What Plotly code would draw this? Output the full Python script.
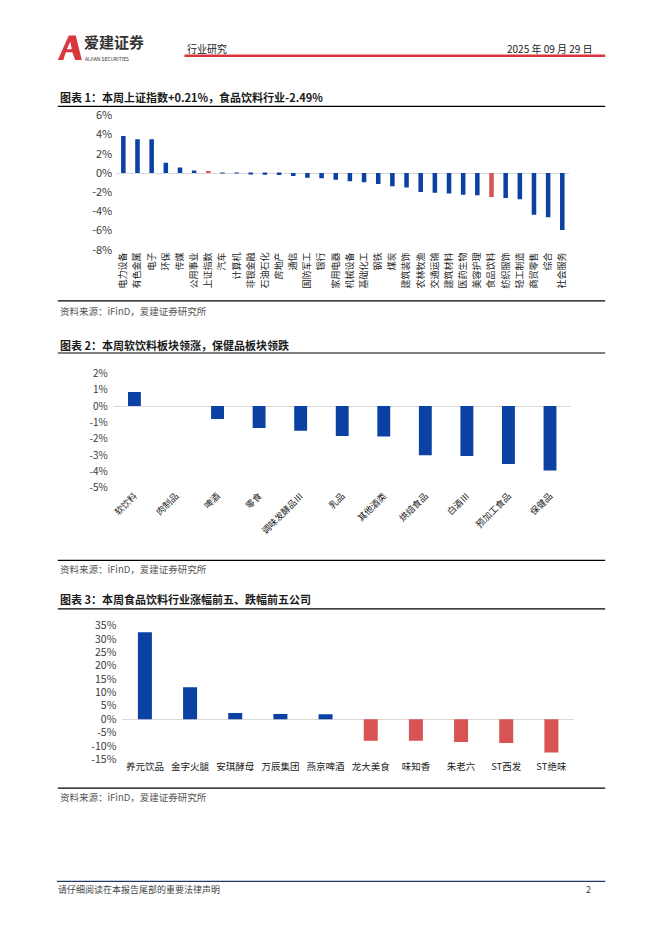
import plotly.graph_objects as go

W, H = 662, 936

# ---------------- data ----------------
c1_categories = ["电力设备", "有色金属", "电子", "环保", "传媒", "公用事业", "上证指数", "汽车",
                 "计算机", "非银金融", "石油石化", "房地产", "通信", "国防军工", "银行", "家用电器",
                 "机械设备", "基础化工", "钢铁", "煤炭", "建筑装饰", "农林牧渔", "交通运输", "建筑材料",
                 "医药生物", "美容护理", "食品饮料", "纺织服饰", "轻工制造", "商贸零售", "综合", "社会服务"]
c1_values = [3.86, 3.52, 3.52, 1.06, 0.58, 0.27, 0.21, 0.01,
             -0.02, -0.10, -0.17, -0.20, -0.30, -0.48, -0.55, -0.70,
             -0.85, -0.96, -1.13, -1.37, -1.50, -1.98, -2.05, -2.12,
             -2.25, -2.32, -2.49, -2.60, -2.73, -4.34, -4.61, -5.94]
c1_highlight = ["上证指数", "食品饮料"]
c1_yticks = [6, 4, 2, 0, -2, -4, -6, -8]

c2_categories = ["软饮料", "肉制品", "啤酒", "零食", "调味发酵品Ⅲ", "乳品", "其他酒类",
                 "烘焙食品", "白酒Ⅲ", "预加工食品", "保健品"]
c2_values = [0.86, 0.0, -0.78, -1.34, -1.50, -1.82, -1.86, -3.00, -3.04, -3.54, -3.94]
c2_yticks = [2, 1, 0, -1, -2, -3, -4, -5]

c3_companies = ["养元饮品", "金字火腿", "安琪酵母", "万辰集团", "燕京啤酒",
                "龙大美食", "味知香", "朱老六", "ST西发", "ST绝味"]
c3_values = [32.5, 11.9, 2.3, 1.9, 1.8, -8.1, -8.1, -8.5, -8.9, -12.5]
c3_yticks = [35, 30, 25, 20, 15, 10, 5, 0, -5, -10, -15]

BLUE = "#0A41A3"
RED = "#D85353"
FONT = "Noto Sans CJK SC"
TICK = "#3A3A3A"


def px(x):
    return x / W


def py(y):
    return 1 - y / H


fig = go.Figure()

fig.add_trace(go.Bar(
    x=c1_categories, y=c1_values, width=0.32,
    marker=dict(color=[RED if c in c1_highlight else BLUE for c in c1_categories], line=dict(width=0)),
    xaxis="x", yaxis="y", showlegend=False))
fig.add_trace(go.Bar(
    x=c2_categories, y=c2_values, width=0.31,
    marker=dict(color=BLUE, line=dict(width=0)),
    xaxis="x2", yaxis="y2", showlegend=False))
fig.add_trace(go.Bar(
    x=c3_companies, y=c3_values, width=0.31,
    marker=dict(color=[BLUE if v >= 0 else RED for v in c3_values], line=dict(width=0)),
    xaxis="x3", yaxis="y3", showlegend=False))


def yax(top, bottom, rng, ticks, size, standoff):
    return dict(domain=[py(bottom), py(top)], range=rng, tickvals=ticks,
                ticktext=[f"{t}%" for t in ticks], showgrid=False,
                zeroline=True, zerolinecolor="#D9D9D9", zerolinewidth=1,
                showline=False, ticks="", tickfont=dict(family=FONT, size=size, color=TICK),
                ticklabelstandoff=standoff, fixedrange=True)


def xax(left, right, n, angle, size, anchor):
    return dict(domain=[px(left), px(right)], range=[-0.5, n - 0.5], type="category",
                showgrid=False, showline=False, ticks="", tickangle=angle, anchor=anchor,
                tickfont=dict(family=FONT, size=size, color="#222222"), fixedrange=True)


fig.update_layout(
    width=W, height=H, margin=dict(l=0, r=0, t=0, b=0),
    paper_bgcolor="white", plot_bgcolor="white",
    xaxis=xax(114.6, 569.1, len(c1_categories), -90, 9, "y"),
    yaxis=yax(108.3, 245, [-8, 6], c1_yticks, 11, 3),
    xaxis2=xax(112, 570.5, len(c2_categories), -45, 9, "y2"),
    yaxis2=yax(370.7, 487.3, [-5, 2], c2_yticks, 10, 5),
    xaxis3=xax(120.7, 573.7, len(c3_companies), 0, 9.5, "y3"),
    yaxis3=yax(627.3, 763.3, [-15, 35], c3_yticks, 10.5, 5),
)
fig.layout.yaxis2.anchor = "x2"
fig.layout.yaxis3.anchor = "x3"

shapes = []
anns = []


def hline(y, x0, x1, color, w):
    shapes.append(dict(type="line", xref="paper", yref="paper", x0=px(x0), x1=px(x1),
                       y0=py(y), y1=py(y), line=dict(color=color, width=w)))


def text(x, y, s, size, color="#222222", anchor="left", bold=False, yanchor="middle"):
    anns.append(dict(xref="paper", yref="paper", x=px(x), y=py(y), text=f"<b>{s}</b>" if bold else s,
                     showarrow=False, xanchor=anchor, yanchor=yanchor, borderpad=0,
                     font=dict(family=FONT, size=size, color=color)))


# header
hline(47.5, 183, 605, "#D9363E", 2.5)
shapes.append(dict(type="path", xref="paper", yref="paper",
                   path=f"M {px(56)},{py(52)} L {px(67)},{py(27)} L {px(74)},{py(27)} L {px(80)},{py(52)} "
                        f"L {px(73.5)},{py(52)} L {px(70.5)},{py(44)} L {px(64)},{py(44)} L {px(61.5)},{py(52)} Z",
                   fillcolor="#D9363E", line=dict(width=0)))
shapes.append(dict(type="path", xref="paper", yref="paper",
                   path=f"M {px(65)},{py(41)} L {px(68.5)},{py(33)} L {px(70)},{py(41)} Z",
                   fillcolor="white", line=dict(width=0)))
text(81, 45, "爱建证券", 15, "#333333", bold=True, yanchor="bottom")
text(82, 46, "AIJIAN SECURITIES", 5, "#333333", yanchor="top")
text(185, 40, "行业研究", 10, "#222222")
text(594, 40, "2025 年 09 月 29 日", 10, "#222222", anchor="right")

# chart 1
text(57, 90, "图表 1：本周上证指数+0.21%，食品饮料行业-2.49%", 11, "#1A1A1A", bold=True)
hline(99, 56, 605, "#000000", 1.2)
hline(297, 56, 605, "#000000", 1.2)
text(57, 307, "资料来源：iFinD，爱建证券研究所", 9.5, "#555555")

# chart 2
text(57, 341.5, "图表 2：本周软饮料板块领涨，保健品板块领跌", 11, "#1A1A1A", bold=True)
hline(350, 56, 605, "#000000", 1.2)
hline(561, 56, 605, "#000000", 1.2)
text(57, 570, "资料来源：iFinD，爱建证券研究所", 9.5, "#555555")

# chart 3
text(57, 600, "图表 3：本周食品饮料行业涨幅前五、跌幅前五公司", 11, "#1A1A1A", bold=True)
hline(610.3, 56, 605, "#000000", 1.2)
hline(792.7, 56, 605, "#000000", 1.2)
text(57, 802, "资料来源：iFinD，爱建证券研究所", 9.5, "#555555")

# footer
hline(887.5, 55, 605, "#1F3864", 1.2)
text(55, 895.5, "请仔细阅读在本报告尾部的重要法律声明", 9, "#444444")
text(592, 895.5, "2", 9, "#444444", anchor="right")

fig.update_layout(shapes=shapes, annotations=anns)
fig.write_html("out.html", config={"displayModeBar": False},
               post_script="document.body.style.margin='0';document.body.style.overflow='hidden';")
